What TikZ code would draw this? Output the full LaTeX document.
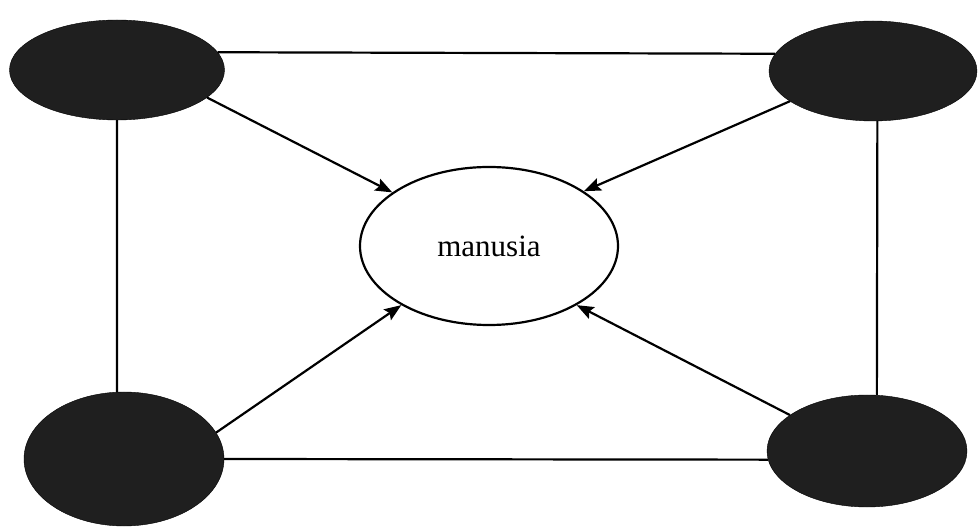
\documentclass[tikz,border=0pt]{standalone}
\usepackage{fontspec}
\setmainfont{Liberation Serif}
\usetikzlibrary{shapes.geometric,arrows.meta}

\begin{document}
\begin{tikzpicture}[x=1pt,y=1pt,
  gelap/.style={ellipse,fill=black!88,draw=black,inner sep=0pt},
  garis/.style={line width=2.2pt},
  panah/.style={line width=2.2pt,-{Stealth[length=17pt,width=13pt,inset=3pt]}}]
\useasboundingbox (0,0) rectangle (978,528);
% dark ellipses at the corners
\node[gelap,minimum width=215pt,minimum height=100pt] (kiriatas) at (117,458) {};
\node[gelap,minimum width=208pt,minimum height=100pt] (kananatas) at (873,457) {};
\node[gelap,minimum width=200pt,minimum height=134pt] (kiribawah) at (124,69) {};
\node[gelap,minimum width=200pt,minimum height=112pt] (kananbawah) at (867,77) {};
% centre
\node[ellipse,draw,line width=2.2pt,inner sep=0pt,minimum width=258pt,minimum height=158pt,
  font=\fontsize{31}{37}\selectfont] (manusia) at (489,282) {manusia};
% frame
\draw[garis] (kiriatas.10) -- (kananatas.170);
\draw[garis] (kiribawah.east) -- (kananbawah.185);
\draw[garis] (kiriatas.south) -- (kiribawah.96);
\draw[garis] (kananatas.-85) -- (kananbawah.80);
% arrows into manusia
\draw[panah] (kiriatas.-17) -- (manusia.151);
\draw[panah] (kananatas.200) -- (manusia.30);
\draw[panah] (kiribawah.16) -- (manusia.214);
\draw[panah] (kananbawah.155) -- (manusia.-34);
\end{tikzpicture}
\end{document}
